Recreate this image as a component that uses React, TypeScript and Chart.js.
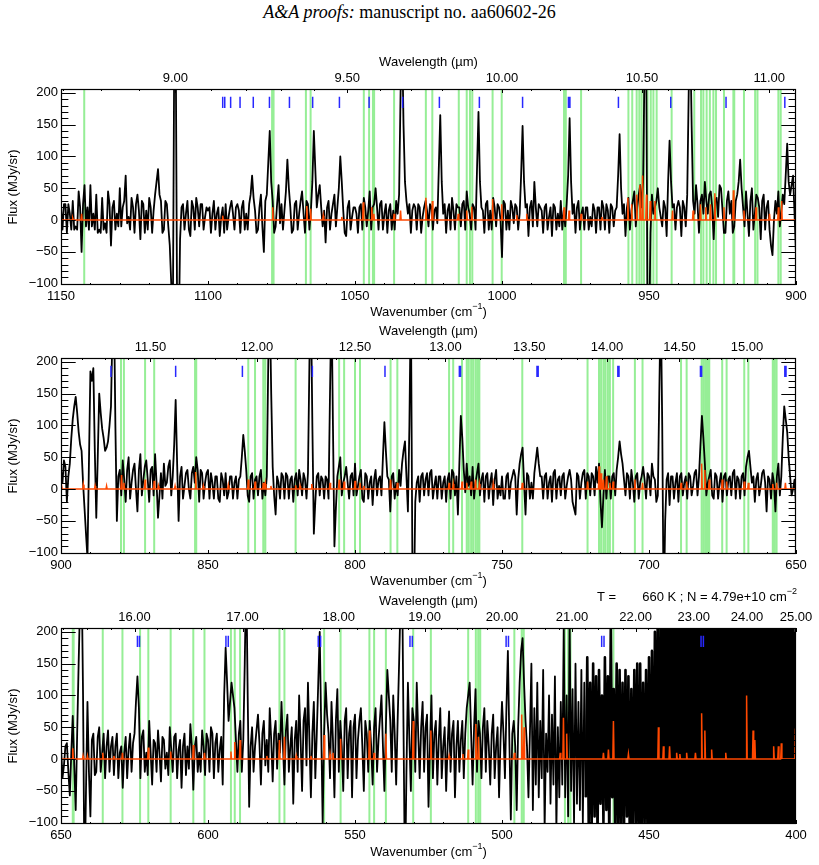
import React, { useEffect, useRef } from "react";
import { Chart, registerables } from "chart.js";
Chart.register(...registerables);

// ---------- shared axis values ----------
const Y_MIN = -102;
const Y_MAX = 206;
const Y_TICKS = [-100, -50, 0, 50, 100, 150, 200];
const BLUE_LOW = 176;
const BLUE_HIGH = 194;

// ---------- panel 1 (1150 -> 900 cm-1) ----------
const p1WnStart = 1150;
const p1WnEnd = 900;
// flux at integer wavenumbers 1150, 1149, ... 900
const p1Flux = [
  20, 25, -20, 10, 30, -10, 45, -50, 55, 20,
  55, 10, 40, -15, 35, -5, 45, -40, 30, 10,
  50, 20, 70, 5, 35, -20, 40, -30, 25, 15,
  35, -20, 40, 80, 30, -15, 25, -40, -200, 300,
  -200, 20, -15, 30, -25, 20, 35, -10, 25, 5,
  15, -20, 30, 10, -25, 20, 25, 5, 30, -15,
  25, -20, 30, 10, 25, 70, 15, -15, 40, -50,
  40, 140, 30, -10, 55, 25, 15, 95, 20, -15,
  30, 10, 45, -20, 25, 15, 140, 20, 55, -10,
  -35, 30, 10, 40, 20, 100, 15, -25, 30, 5,
  20, -20, 25, 35, -10, 45, 20, 50, -15, 30,
  10, -20, 25, 15, 30, 40, 300, 60, 10, -20,
  25, -15, 20, 5, 30, -10, 20, 15, -5, 165,
  10, -20, 25, 35, -15, 20, -10, 30, 45, 10,
  25, -15, 170, 20, -20, 30, 15, 35, -10, 20,
  -58, 25, 15, 30, -5, 20, 10, 148, 20, -25,
  30, 60, -10, 20, -20, 25, 5, -25, 20, 10,
  30, 15, 25, 160, 10, -20, 30, 10, -15, 20,
  5, 25, -20, 20, 30, -15, 15, 25, -10, 20,
  135, 10, -25, 35, 15, 45, 20, 55, 60, 300,
  -200, 40, 20, 50, 5, 30, -25, 125, 20, -15,
  30, -25, 20, 40, 300, 30, 55, -20, 40, 60,
  10, 45, -30, 35, 55, 15, -20, 45, 30, -10,
  40, 95, 20, 45, -25, 50, 10, 35, -30, 40,
  20, -15, -55, 30, 45, 15, 25, 120, 40, 70,
  -55,
];
// flux at half wavenumbers 1149.5, 1148.5, ... 900.5
const p1FluxHalf = [
  -15, 25, 25, -15, -15, -15, 20, 25, -10, -15,
  -10, -15, -20, -20, -15, -20, 25, 20, -15, -10,
  -10, 30, -5, -15, 20, 25, 15, 30, -20, -15,
  20, 15, 60, 40, -20, 30, -10, -100, 250, -150,
  -30, 25, 10, -15, 30, -15, 20, 25, -15, 20,
  20, 10, -15, 20, 5, -20, -15, 20, 10, 20,
  15, 20, -15, -15, 40, 35, -20, 20, -10, 30,
  90, 60, -20, 25, -5, -15, 45, 50, -20, 25,
  -15, 30, 10, 30, -15, 60, 80, 40, 20, 15,
  20, -15, 25, -10, 50, 60, -20, 20, -15, 20,
  10, 20, -15, 20, 15, -15, 25, 20, 25, -15,
  25, 15, -15, -15, 10, 200, 150, 30, 25, 15,
  20, 25, -20, 20, 15, 25, -15, 20, 80, 60,
  25, 15, -15, 15, 25, 20, 25, -15, 20, -15,
  20, 80, 60, 15, 25, -15, -15, 20, 25, 0,
  30, -15, -15, 20, 25, -15, 70, 60, 25, 20,
  -10, 20, 25, 15, 20, -15, 20, 25, -15, -10,
  -15, -10, 70, 60, 25, 20, -15, 20, 20, -15,
  -10, 15, 20, -15, 20, 25, -20, 20, 15, 70,
  50, 25, 20, -15, 30, -10, 40, 20, 250, -150,
  -20, 10, 30, 20, -10, 20, 60, 60, 25, 20,
  20, 30, -10, 200, 150, 10, 25, 30, 10, 30,
  40, 20, 30, 5, 50, -20, 30, 10, -20, 30,
  60, 50, -10, 10, 30, -15, 40, 20, 30, -15,
  30, -40, 0, 10, -10, 40, 70, 60, 55, 10,
];
const p1ModelPos = [
  1143, 1146, 1095, 1078, 1066.4, 1065.1, 1060.8, 1054.5, 1047.2, 1044.3,
  1043.6, 1036.7, 1034.5, 1025.9, 1023.7, 1014.9, 1012, 1010.3, 1003.2, 1000.1,
  995, 991.6, 978.9, 977.2, 973.1, 966, 957.2, 955.9, 954.2, 953.1,
  952.2, 950.9, 949.6, 948, 942, 935, 932.5, 930.7, 929.1, 927.6,
  924.5, 921.3, 917.7, 913.6, 909, 906, 904.9,
];
const p1ModelHeight = [
  10, 3, 7, 20, 22, 18, 7, 5, 28, 20,
  10, 10, 15, 35, 30, 10, 15, 21, 33, 25,
  8, 10, 20, 15, 10, 5, 35, 25, 40, 55,
  70, 40, 30, 30, 15, 15, 25, 20, 25, 42,
  20, 47, 15, 20, 10, 20, 30,
];
const p1Green = [
  1142.1, 1078.2, 1077.7, 1066.7, 1065.1, 1047.0, 1045.2, 1043.9, 1043.5, 1036.7,
  1025.9, 1023.7, 1014.7, 1012.0, 1010.9, 1010.1, 1003.2, 1000.1, 978.9, 978.3,
  973.1, 957.0, 955.7, 954.2, 953.3, 952.5, 951.7, 950.5, 949.4, 948.5,
  947.4, 942.3, 934.6, 932.3, 931.5, 930.4, 929.3, 928.1, 927.2, 924.5,
  921.3, 921.0, 917.7, 913.9, 913.1, 906.0, 905.2,
];
const p1Blue = [
  1095.0, 1094.3, 1092.3, 1089.1, 1084.6, 1079.1, 1072.3, 1064.4, 1055.3, 1045.2,
  1033.8, 1021.3, 1007.7, 993.0, 977.4, 976.9, 960.4, 942.6, 923.8, 903.8,
];
const p1Wavelength = [9.0, 9.5, 10.0, 10.5, 11.0];

// ---------- panel 2 (900 -> 650 cm-1) ----------
const p2WnStart = 900;
const p2WnEnd = 650;
const p2Flux = [
  30, 45, -20, 40, 110, 145, 90, 60, -30, -108,
  185, 190, -45, 150, 95, 60, 75, 130, 300, -50,
  30, 45, -20, 50, 10, 40, -35, 55, 15, 45,
  -20, 35, 55, -45, 25, 40, 10, 45, 20, 140,
  -50, 35, 5, 30, -15, 35, 50, -20, 25, 10,
  30, 25, -15, 20, -20, 15, 25, -5, 20, 10,
  -15, 20, 85, 30, -20, 25, 15, -10, 30, 10,
  20, 300, 35, -40, 10, 25, -15, 20, 15, -20,
  25, 30, -10, 15, 25, 300, -70, 20, -10, 15,
  20, -15, 300, -90, 20, 50, 10, 35, -15, 25,
  40, 5, 30, -20, 20, 10, -25, 30, 15, -10,
  105, 20, -35, 25, 10, 30, 40, 75, -35, 300,
  -200, 10, -20, 25, 15, -10, 30, 5, -15, 20,
  10, -20, 25, 30, -10, -40, 115, 30, 40, 20,
  35, 10, 40, 15, -20, 25, 10, -25, 30, 5,
  20, -15, 25, 10, 30, -40, 40, 65, -40, 20,
  10, 25, 65, 20, -15, 25, 10, -20, 30, 15,
  -10, 25, 5, 30, -20, -40, 20, 10, 30, 25,
  -10, 20, 35, 40, -60, 30, 20, -15, 25, 30,
  75, 40, -10, 20, 30, -20, 25, 10, 35, -15,
  20, 40, 15, -10, 300, -200, 15, -25, 20, 10,
  -20, 25, 10, -15, 20, 5, 30, 20, 115, 40,
  10, 30, -15, 20, 10, -20, 25, 15, -10, 30,
  20, -15, 25, 35, 60, 10, -20, 25, 5, 30,
  -35, 15, 25, -35, 40, 20, 130, 90, 20, 0,
  -25,
];
const p2FluxHalf = [
  10, 35, 20, 80, 130, 120, 70, 10, -70, 40,
  170, 60, 50, 120, 80, 65, 100, 250, 100, 20,
  -10, 15, 30, -15, 30, 0, 30, -10, 35, 15,
  30, -10, 10, -10, -15, 5, 35, -10, 70, 40,
  20, -15, 25, 0, 25, 10, 30, 30, -15, 25,
  -15, 10, 20, -15, 25, -10, -15, 20, -15, 20,
  15, 50, 60, -10, 20, -15, 20, 20, -15, -10,
  200, 150, -10, 20, -15, 20, 25, -15, 20, 15,
  -10, 15, 25, -15, 200, 100, -20, 25, 20, -15,
  15, 150, 100, -30, 35, -10, 20, 10, 20, -10,
  -10, 20, -15, 25, -15, 20, 15, -10, 20, 50,
  60, 15, 20, -15, -10, 5, 60, 20, 100, -100,
  -20, 20, 20, -10, 25, 25, -15, 20, 20, -15,
  20, 15, -15, 25, 20, 40, 80, -5, 5, -10,
  -15, 25, -10, 25, 20, -15, 25, 15, -15, -10,
  -15, 20, -15, 20, 20, 15, 55, 10, 25, -15,
  -15, 45, 40, 20, 20, -15, 20, 25, -15, 20,
  20, -15, 20, 15, -30, 25, -15, 25, -15, 20,
  25, -10, 10, -20, -10, -15, 20, 20, -10, 50,
  55, 15, 25, -15, 10, 20, -15, 20, 15, 25,
  -10, 20, -20, 150, 100, -50, 25, 20, -15, 25,
  20, -10, 20, 25, -10, 25, -10, 70, 80, -10,
  20, -10, 25, -15, 25, 20, -10, 20, 25, -15,
  15, 20, -10, 50, 35, 20, 15, -10, 25, 10,
  20, -15, 10, 20, -10, 80, 110, 50, -10, 15,
];
const p2ModelPos = [
  899.8, 892.4, 888.4, 884.5, 879.4, 878.6, 871.4, 868.3, 866.9, 861.2,
  854.2, 851.6, 843.1, 836.3, 834.0, 831.2, 830.5, 828.6, 820.2, 818.7,
  814.7, 808.5, 805.4, 803.7, 800.0, 798.3, 797.0, 787.9, 785.6, 768.0,
  766.6, 763.6, 762.0, 760.5, 759.0, 757.7, 753.0, 743.1, 720.9, 717.0,
  716.3, 715.5, 714.5, 713.3, 712.2, 704.8, 702.2, 689.1, 687.2, 682.1,
  681.0, 679.5, 675.1, 673.6, 667.6, 666.2, 657.9, 656.6, 653.6,
];
const p2ModelHeight = [
  8, 7, 5, 5, 22, 10, 15, 13, 5, 5,
  27, 5, 6, 15, 12, 10, 8, 5, 6, 5,
  8, 10, 15, 12, 13, 10, 5, 15, 10, 10,
  8, 12, 10, 12, 15, 8, 8, 10, 12, 36,
  25, 15, 20, 10, 12, 15, 10, 10, 12, 40,
  30, 15, 15, 12, 12, 10, 8, 10, 10,
];
const p2Green = [
  879.6, 878.6, 871.4, 868.3, 854.4, 854.0, 836.3, 834.0, 831.2, 830.5,
  820.2, 805.4, 803.7, 800.0, 798.3, 787.9, 785.6, 768.0, 766.6, 763.6,
  762.0, 761.3, 760.5, 759.8, 759.0, 758.3, 757.7, 743.1, 720.9, 717.0,
  716.3, 715.5, 714.8, 714.0, 713.3, 712.2, 704.8, 702.2, 689.1, 687.2,
  682.1, 681.4, 680.7, 680.1, 679.5, 675.1, 673.6, 667.6, 666.2, 657.9,
  657.3, 656.6,
];
const p2Blue = [
  883.0, 861.0, 838.3, 814.5, 789.8, 764.5, 764.1, 738.1, 737.7, 710.6,
  710.2, 682.5, 682.1, 653.8, 653.4,
];
const p2Wavelength = [11.5, 12.0, 12.5, 13.0, 13.5, 14.0, 14.5, 15.0];

// ---------- panel 3 (650 -> 400 cm-1) ----------
const p3WnStart = 650;
const p3WnEnd = 400;
const p3Flux = [
  20, -10, 25, -57, 68, -80, 150, 300, -200, 90,
  -90, 40, -20, 50, 10, -30, 45, 20, -25, 40,
  10, -45, 35, 15, -20, 40, 130, -30, 45, 10,
  60, -40, 25, 45, -35, 30, 10, 50, -20, 40,
  15, -45, 40, 20, 55, -48, 35, 10, 45, -25,
  30, 50, -30, 40, 15, -40, 175, 60, 120, 80,
  -20, 60, 30, 300, -75, 50, 20, 70, -40, 60,
  30, 80, -35, 60, 40, 90, -40, 70, 20, -70,
  60, 100, -50, 80, 120, -60, 90, 40, 200, -100,
  120, 40, 90, -60, 110, 60, -50, 80, 40, -60,
  70, 30, 80, -50, 40, 60, -40, 80, 30, 100,
  -50, 140, 60, 100, -40, 150, 300, -200, 120, -50,
  60, 120, -30, 90, 50, -75, 100, 40, -40, 80,
  20, -50, 75, 40, -60, 60, 30, -30, 80, 120,
  -40, 110, 60, -30, 80, 60, -40, 70, 20, -60,
  90, -30, 170, -95, 60, -80, 120, 190, 60, -60,
  150, 80, 120, 60, 140, 40, 100, 70, 130, 50,
  90, 210, 100, 220, 110, 150, 90, 140, 120, 160,
  120, 150, 130, 140, 100, 160, 130, 210, 110, 150,
  140, 120, 140, 130, 110, 140, 150, 150, 120, 140,
  160, 170, 200, 260, 220, 300, 250, 280, 330, 300,
  380, 420, 350, 400, 450, 380, 420, 360, 440, 400,
  450, 380, 420, 460, 400, 380, 430, 450, 390, 420,
  410, 460, 380, 400, 440, 420, 390, 450, 400, 430,
  380, 420, 450, 400, 430, 390, 440, 410, 380, 420,
  200,
];
const p3FluxHalf = [
  -30, 20, -20, 10, -10, 40, 250, 100, -50, -20,
  30, -25, 35, -20, 40, 20, -20, 35, 20, -30,
  20, 10, -30, 40, 25, 90, 80, 35, -20, -25,
  10, 30, -20, 10, 35, -15, -25, 15, 35, -30,
  30, 20, -25, -15, 20, 20, -20, -20, 20, 40,
  -20, 40, 25, -20, 35, 100, 120, 90, 100, 30,
  40, -20, 150, 100, 20, -20, 45, 25, 40, -10,
  -20, 30, 40, -15, 10, 20, 45, -20, 50, 30,
  -20, 30, 60, -10, 30, 40, -30, 120, 50, 40,
  70, -30, 30, 60, -20, 20, 60, -30, 60, 50,
  -30, 60, 20, 60, -20, 20, 50, -20, 65, 20,
  50, 100, -20, 40, 60, 250, 50, -20, 30, 80,
  -20, 40, 50, -20, 70, 20, -30, 60, 30, -30,
  50, 20, -20, 60, 20, -20, 60, 40, 100, 40,
  50, -20, 40, 50, -20, 20, 40, -30, 50, 30,
  40, 80, 30, 40, 20, 50, 170, 120, 20, 40,
  -80, -40, -60, -30, -110, -20, -70, -40, -110, -60,
  -40, -60, -90, -50, -100, -70, -80, -100, -60, -110,
  -110, -90, -120, -70, -100, -80, -130, -60, -110, -120,
  -120, -110, -90, -150, -120, -100, -160, -130, -110, -130,
  -130, -160, -150, -200, -220, -250, -220, -260, -250, -300,
  -320, -380, -300, -350, -400, -330, -380, -310, -360, -400,
  -380, -320, -400, -350, -300, -380, -420, -340, -390, -360,
  -350, -400, -330, -380, -420, -360, -390, -340, -400, -370,
  -400, -350, -380, -420, -360, -390, -340, -400, -370, -350,
];
const p3ModelPos = [
  646.0, 642.5, 641, 635.8, 632, 629.1, 620.3, 612.7, 605.0, 601.2,
  592.2, 590.9, 589.1, 580, 575.7, 574.0, 570, 565, 560.5, 558.5,
  557.5, 554.9, 545.1, 543.5, 539.5, 530.2, 524.2, 518, 513.3, 511.5,
  508.9, 508.0, 495.8, 493.3, 492.5, 480.2, 479.1, 478.0, 465.5, 463.8,
  462.1, 457, 446.8, 445.1, 443, 440.6, 439.5, 437.2, 434.2, 432.1,
  431.0, 428.7, 423.9, 416.8, 414.6, 414.0, 407.6, 406.0, 405.0, 400.2,
];
const p3ModelHeight = [
  17, 5, 5, 10, 5, 10, 18, 12, 22, 10,
  12, 27, 30, 5, 30, 35, 5, 5, 38, 8,
  10, 32, 45, 10, 40, 60, 45, 5, 8, 15,
  55, 35, 10, 70, 50, 10, 65, 40, 10, 15,
  60, 8, 50, 20, 20, 10, 8, 10, 10, 72,
  45, 15, 10, 100, 45, 30, 20, 20, 25, 48,
];
const p3Green = [
  646.0, 645.7, 635.8, 629.1, 623.1, 620.3, 612.7, 605.0, 601.2, 592.2,
  590.9, 589.1, 575.7, 574.0, 560.5, 554.9, 545.1, 543.5, 539.5, 530.2,
  524.2, 511.5, 508.9, 508.1, 507.4, 495.8, 493.3, 492.6, 478.6, 477.5,
  476.7, 462.1, 446.8, 446.1, 443.4, 432.1, 416.8, 405.2,
];
const p3Blue = [
  624.0, 623.3, 593.9, 593.1, 562.5, 561.7, 531.3, 530.5, 498.6, 497.8,
  466.1, 465.3, 432.3, 431.5,
];
const p3Wavelength = [16, 17, 18, 19, 20, 21, 22, 23, 24, 25];

// ---------- styling ----------
const GREEN = "rgb(150,238,150)";
const BLUE = "rgb(40,40,255)";
const ORANGE = "rgb(255,72,0)";
const SANS = '"Liberation Sans", Arial, Helvetica, sans-serif';

type PanelCfg = {
  wnStart: number; wnEnd: number; flux: number[]; fluxHalf: number[];
  modelPos: number[]; modelHeight: number[];
  green: number[]; blue: number[]; wl: number[]; wlMinor: number;
  top: number; height: number; topH: number; botH: number;
  topTitle: number; botTitle: number; note: boolean; denseBelow: number | null;
};

const PANELS: PanelCfg[] = [
  { wnStart: p1WnStart, wnEnd: p1WnEnd, flux: p1Flux, fluxHalf: p1FluxHalf, modelPos: p1ModelPos, modelHeight: p1ModelHeight,
    green: p1Green, blue: p1Blue, wl: p1Wavelength, wlMinor: 0.1,
    top: 52, height: 270, topH: 37, botH: 37, topTitle: 27, botTitle: 27, note: false, denseBelow: null },
  { wnStart: p2WnStart, wnEnd: p2WnEnd, flux: p2Flux, fluxHalf: p2FluxHalf, modelPos: p2ModelPos, modelHeight: p2ModelHeight,
    green: p2Green, blue: p2Blue, wl: p2Wavelength, wlMinor: 0.1,
    top: 322, height: 268, topH: 36, botH: 36, topTitle: 27, botTitle: 27, note: false, denseBelow: null },
  { wnStart: p3WnStart, wnEnd: p3WnEnd, flux: p3Flux, fluxHalf: p3FluxHalf, modelPos: p3ModelPos, modelHeight: p3ModelHeight,
    green: p3Green, blue: p3Blue, wl: p3Wavelength, wlMinor: 0.2,
    top: 586, height: 279, topH: 42, botH: 41, topTitle: 27, botTitle: 28, note: true, denseBelow: 472 },
];

function fluxPoints(start: number, values: number[], halves: number[]) {
  const pts: { x: number; y: number }[] = [];
  values.forEach((v, i) => {
    pts.push({ x: start - i, y: v });
    if (i < halves.length) pts.push({ x: start - i - 0.5, y: halves[i] });
  });
  return pts;
}
function modelPoints(start: number, end: number, pos: number[], h: number[]) {
  const idx = pos.map((_, i) => i).sort((a, b) => pos[b] - pos[a]);
  const pts: { x: number; y: number }[] = [{ x: start, y: 0 }];
  for (const i of idx) {
    pts.push({ x: pos[i] + 0.2, y: 0 }, { x: pos[i], y: h[i] }, { x: pos[i] - 0.2, y: 0 });
  }
  pts.push({ x: end, y: 0 });
  return pts;
}
function vlines(xs: number[], y0: number, y1: number) {
  const pts: { x: number; y: number | null }[] = [];
  [...xs].sort((a, b) => a - b).forEach((x) => pts.push({ x, y: y0 }, { x, y: y1 }, { x, y: null }));
  return pts;
}

function drawParts(ctx: CanvasRenderingContext2D, parts: [string, boolean][], x: number, y: number, align: string) {
  const main = `13px ${SANS}`;
  const sup = `9px ${SANS}`;
  let w = 0;
  parts.forEach(([t, s]) => { ctx.font = s ? sup : main; w += ctx.measureText(t).width; });
  let cx = align === "center" ? x - w / 2 : align === "right" ? x - w : x;
  ctx.textAlign = "left";
  parts.forEach(([t, s]) => {
    ctx.font = s ? sup : main;
    ctx.fillText(t, cx, s ? y - 5 : y);
    cx += ctx.measureText(t).width;
  });
}

function makeFramePlugin(p: PanelCfg) {
  return {
    id: "frame",
    afterDraw(chart: any) {
      const { ctx, chartArea: a } = chart;
      const xs = chart.scales.x;
      const ys = chart.scales.y;
      ctx.save();
      ctx.strokeStyle = "#000";
      ctx.lineWidth = 1;
      ctx.beginPath();
      for (let v = p.wnEnd; v <= p.wnStart; v += 10) {
        const px = Math.round(xs.getPixelForValue(v)) + 0.5;
        const len = v % 50 === 0 ? 4 : 2;
        ctx.moveTo(px, a.bottom); ctx.lineTo(px, a.bottom - len);
      }
      const lmin = 10000 / p.wnStart, lmax = 10000 / p.wnEnd;
      for (let k = Math.ceil(lmin / p.wlMinor - 1e-6); k * p.wlMinor <= lmax + 1e-9; k++) {
        const lam = k * p.wlMinor;
        const px = Math.round(xs.getPixelForValue(10000 / lam)) + 0.5;
        const major = p.wl.some((w) => Math.abs(w - lam) < 1e-6);
        const len = major ? 4 : 2;
        ctx.moveTo(px, a.top); ctx.lineTo(px, a.top + len);
      }
      for (let v = -100; v <= 200; v += 10) {
        const py = Math.round(ys.getPixelForValue(v)) + 0.5;
        const len = v % 50 === 0 ? 14.7 : 7.4;
        ctx.moveTo(a.left, py); ctx.lineTo(a.left + len, py);
        ctx.moveTo(a.right, py); ctx.lineTo(a.right - len, py);
      }
      ctx.stroke();
      ctx.lineWidth = 1.2;
      ctx.strokeRect(a.left + 0.5, a.top + 0.5, a.right - a.left - 1, a.bottom - a.top - 1);

      ctx.fillStyle = "#000";
      ctx.textBaseline = "middle";
      const cx = (a.left + a.right) / 2;
      drawParts(ctx, [["Wavenumber (cm", false], ["\u22121", true], [")", false]], cx, a.bottom + p.botTitle, "center");
      drawParts(ctx, [["Wavelength (\u00b5m)", false]], cx, a.top - p.topTitle, "center");
      if (p.note) {
        drawParts(ctx, [["T =", false]], 597, a.top - 31, "left");
        drawParts(ctx, [["660 K ; N = 4.79e+10 cm", false], ["\u22122", true]], 797, a.top - 31, "right");
      }
      ctx.save();
      ctx.translate(13, (a.top + a.bottom) / 2);
      ctx.rotate(-Math.PI / 2);
      drawParts(ctx, [["Flux (MJy/sr)", false]], 0, 0, "center");
      ctx.restore();
      ctx.restore();
    },
  };
}

function Panel({ p }: { p: PanelCfg }) {
  const ref = useRef<HTMLCanvasElement | null>(null);
  useEffect(() => {
    if (!ref.current) return;
    const tickFont = { family: SANS, size: 13 };
    const chart = new Chart(ref.current, {
      type: "line",
      data: {
        datasets: [
          { data: vlines(p.green, Y_MIN - 20, Y_MAX + 20) as any, borderColor: GREEN, borderWidth: 2, pointRadius: 0, order: 4, spanGaps: false, fill: false },
          {
            data: fluxPoints(p.wnStart, p.flux, p.fluxHalf) as any, borderColor: "#000", borderWidth: 1.8, pointRadius: 0, order: 3,
            borderJoinStyle: "round", fill: false,
            segment: {
              borderWidth: (c: any) => (p.denseBelow !== null && c.p0.parsed.x < p.denseBelow ? 2.6 : undefined),
            },
          },
          { data: modelPoints(p.wnStart, p.wnEnd, p.modelPos, p.modelHeight) as any, borderColor: ORANGE, borderWidth: 1.5, pointRadius: 0, order: 2, fill: false },
          { data: vlines(p.blue, BLUE_LOW, BLUE_HIGH) as any, borderColor: BLUE, borderWidth: 1.5, pointRadius: 0, order: 1, spanGaps: false, fill: false },
        ],
      },
      options: {
        animation: false,
        responsive: false,
        events: [],
        layout: { padding: { left: 0, right: 23, top: 0, bottom: 0 } },
        plugins: { legend: { display: false }, tooltip: { enabled: false } },
        elements: { line: { tension: 0 }, point: { radius: 0 } },
        scales: {
          x: {
            type: "linear", position: "bottom", min: p.wnEnd, max: p.wnStart, reverse: true,
            grid: { display: false, drawTicks: false }, border: { display: false },
            ticks: {
              color: "#000", font: tickFont, padding: 4, maxRotation: 0, autoSkip: false,
              callback: (v: any) => String(v),
            },
            afterBuildTicks: (s: any) => {
              const t = [];
              for (let v = p.wnEnd; v <= p.wnStart; v += 50) t.push({ value: v });
              s.ticks = t;
            },
            afterFit: (s: any) => { s.height = p.botH; },
          },
          x2: {
            type: "linear", position: "top", min: p.wnEnd, max: p.wnStart, reverse: true,
            grid: { display: false, drawTicks: false }, border: { display: false },
            ticks: {
              color: "#000", font: tickFont, padding: 3, maxRotation: 0, autoSkip: false,
              callback: (v: any) => (10000 / Number(v)).toFixed(2),
            },
            afterBuildTicks: (s: any) => { s.ticks = p.wl.map((w) => ({ value: 10000 / w })); },
            afterFit: (s: any) => { s.height = p.topH; },
          },
          y: {
            type: "linear", position: "left", min: Y_MIN, max: Y_MAX,
            grid: { display: false, drawTicks: false }, border: { display: false },
            ticks: {
              color: "#000", font: tickFont, padding: 3, autoSkip: false,
              callback: (v: any) => (Number(v) < 0 ? "\u2212" + Math.abs(Number(v)) : String(v)),
            },
            afterBuildTicks: (s: any) => { s.ticks = Y_TICKS.map((v) => ({ value: v })); },
            afterFit: (s: any) => { s.width = 61; },
          },
        },
      } as any,
      plugins: [makeFramePlugin(p)],
    });
    return () => chart.destroy();
  }, [p]);
  return (
    <canvas
      ref={ref}
      width={819}
      height={p.height}
      style={{ position: "absolute", left: 0, top: p.top, width: 819, height: p.height, display: "block" }}
    />
  );
}

export default function App() {
  return (
    <div style={{ position: "absolute", left: 0, top: 0, width: 819, height: 865, background: "#fff", overflow: "hidden" }}>
      <div
        style={{
          position: "absolute", left: 0, top: 2, width: 819, textAlign: "center",
          fontFamily: '"Liberation Serif", "Times New Roman", serif', fontSize: 18, lineHeight: "20px", color: "#000",
        }}
      >
        <i>A&amp;A proofs:</i> manuscript no. aa60602-26
      </div>
      {PANELS.map((p, i) => (
        <Panel key={i} p={p} />
      ))}
    </div>
  );
}
